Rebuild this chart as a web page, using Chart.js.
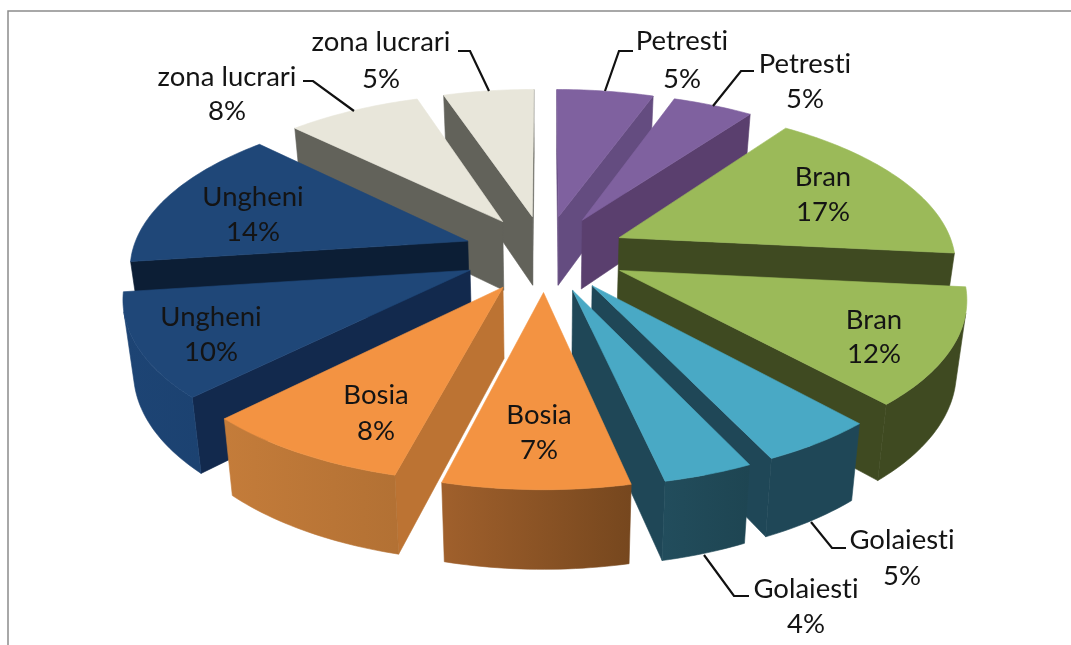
<!DOCTYPE html>
<html>
<head>
<meta charset="utf-8">
<script src="https://cdn.jsdelivr.net/npm/chart.js@4"></script>
<style>
  html, body { margin: 0; padding: 0; background: #fff; overflow: hidden; }
  #wrap { width: 1071px; height: 645px; }
</style>
</head>
<body>
<div id="wrap"><canvas id="chart" width="1071" height="645"></canvas></div>
<script>
// valores, sentido horario a partir do topo
const categories = ['Petresti', 'Petresti', 'Bran', 'Bran', 'Golaiesti', 'Golaiesti',
  'Bosia', 'Bosia', 'Ungheni', 'Ungheni', 'zona lucrari', 'zona lucrari'];
const values = [5.45, 4.55, 16.6, 11.7, 4.65, 3.6, 7.45, 8.45, 10.45, 14.45, 7.55, 5.1];

// cores
const topColors = ['#7F619F', '#7F619F', '#9BBA59', '#9BBA59', '#49A9C5', '#49A9C5',
  '#F39342', '#F39342', '#1F4778', '#1F4778', '#E8E6DA', '#E8E6DA'];
const cutColors = ['#644C80', '#5A3F6E', '#3F4A21', '#3F4A21', '#1F4757', '#1F4757',
  '#BC7333', '#BC7333', '#12294D', '#0C1E35', '#62625A', '#62625A'];
const rimLeft = ['#644C80', '#5A3F6E', '#3F4A21', '#3F4A21', '#1F4757', '#265567',
  '#A0602C', '#C47C3A', '#1D4474', '#1D4474', '#62625A', '#62625A'];
const rimRight = ['#644C80', '#5A3F6E', '#3F4A21', '#3F4A21', '#1F4757', '#1E4552',
  '#76471E', '#A86A30', '#173B66', '#173B66', '#62625A', '#62625A'];

// posicao dos rotulos (centro x, linha 1, linha 2)
const labelSpots = [[682, 41, 79], [805, 64, 99], [823, 177, 212], [874, 320, 354],
  [902, 540, 576], [806, 589, 624], [539, 415, 450], [376, 395, 431],
  [211, 317, 352], [253, 197, 232], [227, 77, 111], [381, 42, 79]];

// linhas de chamada
const leaders = [
  [[633, 51], [619, 51], [605, 91]],
  [[754, 71], [741, 71], [713, 106]],
  [[846, 548], [832, 548], [811, 522]],
  [[749, 596], [734, 596], [704, 555]],
  [[303, 81], [313, 81], [354, 111]],
  [[458, 51], [470, 51], [489, 91]]
];

const EXPLODE = 0.245;  // afastamento das fatias
const SQUASH = 0.463;   // achatamento vertical
const PERSP = 0.146;    // perspectiva
const SINK = 0.975;     // base um pouco menor que o topo
const DROP = 70;        // altura da fatia

function project(arc, c, s, low) {
  const den = 1 - PERSP * s;
  const k = low ? SINK : 1;
  const R = arc.outerRadius;
  return [
    arc.x + R * c * k / den,
    arc.y + (R * SQUASH * s * k + (low ? DROP : 0)) / den
  ];
}

function fillPoly(ctx, pts, color) {
  ctx.beginPath();
  pts.forEach((p, i) => i ? ctx.lineTo(p[0], p[1]) : ctx.moveTo(p[0], p[1]));
  ctx.closePath();
  ctx.fillStyle = color;
  ctx.strokeStyle = color;
  ctx.lineWidth = 0.6;
  ctx.fill();
  ctx.stroke();
}

function facesViewer(quad) {
  let area = 0;
  quad.forEach((p, q) => {
    const o = quad[(q + 1) % 4];
    area += p[0] * o[1] - o[0] * p[1];
  });
  return area < 0;
}

function drawSlice(ctx, arc, i) {
  const mid = (arc.startAngle + arc.endAngle) / 2;
  const ex = EXPLODE * Math.cos(mid);
  const ey = EXPLODE * Math.sin(mid);

  // pontos no plano da pizza: vertice + arco
  const unit = [[ex, ey]];
  const n = Math.ceil((arc.endAngle - arc.startAngle) / 0.02);
  for (let j = 0; j <= n; j++) {
    const a = arc.startAngle + (arc.endAngle - arc.startAngle) * j / n;
    unit.push([ex + Math.cos(a), ey + Math.sin(a)]);
  }
  const top = unit.map(p => project(arc, p[0], p[1], false));
  const low = unit.map(p => project(arc, p[0], p[1], true));

  const xs = top.map(p => p[0]);
  const rim = ctx.createLinearGradient(Math.min(...xs), 0, Math.max(...xs), 0);
  rim.addColorStop(0, rimLeft[i]);
  rim.addColorStop(1, rimRight[i]);

  // paredes cortadas
  const last = top.length - 1;
  [[0, 1], [last, 0]].forEach(e => {
    const quad = [top[e[0]], top[e[1]], low[e[1]], low[e[0]]];
    if (facesViewer(quad)) fillPoly(ctx, quad, cutColors[i]);
  });

  // parede externa: um poligono so com o trecho visivel
  const upper = [];
  const lower = [];
  for (let j = 1; j < last; j++) {
    if (facesViewer([top[j], top[j + 1], low[j + 1], low[j]])) {
      if (!upper.length) { upper.push(top[j]); lower.push(low[j]); }
      upper.push(top[j + 1]);
      lower.push(low[j + 1]);
    }
  }
  if (upper.length) fillPoly(ctx, upper.concat(lower.reverse()), rim);

  fillPoly(ctx, top, arc.options.backgroundColor);
}

const pie3d = {
  id: 'pie3d',
  beforeDraw(chart) {
    const ctx = chart.ctx;
    ctx.save();
    ctx.fillStyle = '#fff';
    ctx.fillRect(0, 0, 1071, 645);
    ctx.strokeStyle = '#8c8c8c';
    ctx.lineWidth = 1.5;
    ctx.beginPath();
    ctx.moveTo(8, 660);
    ctx.lineTo(8, 11);
    ctx.lineTo(1075, 11);
    ctx.stroke();
    ctx.restore();
  },
  beforeDatasetDraw() {
    return false; // a pizza plana nao e desenhada
  },
  afterDatasetsDraw(chart) {
    const ctx = chart.ctx;
    const arcs = chart.getDatasetMeta(0).data;
    const order = arcs.map((a, i) => i).sort((p, q) => {
      const mp = (arcs[p].startAngle + arcs[p].endAngle) / 2;
      const mq = (arcs[q].startAngle + arcs[q].endAngle) / 2;
      return Math.sin(mp) - Math.sin(mq);
    });
    ctx.save();
    order.forEach(i => drawSlice(ctx, arcs[i], i));

    ctx.strokeStyle = '#111';
    ctx.lineWidth = 2.2;
    leaders.forEach(line => {
      ctx.beginPath();
      line.forEach((p, i) => i ? ctx.lineTo(p[0], p[1]) : ctx.moveTo(p[0], p[1]));
      ctx.stroke();
    });

    const total = values.reduce((s, v) => s + v, 0);
    ctx.font = '27.5px Lato';
    ctx.textRendering = 'optimizeSpeed'; // sem ligadura no "ti"
    ctx.fillStyle = '#141414';
    ctx.textAlign = 'center';
    ctx.textBaseline = 'middle';
    categories.forEach((name, i) => {
      const spot = labelSpots[i];
      ctx.fillText(name, spot[0], spot[1]);
      ctx.fillText(Math.round(values[i] / total * 100) + '%', spot[0], spot[2]);
    });
    ctx.restore();
  }
};

new Chart(document.getElementById('chart'), {
  type: 'pie',
  data: {
    labels: categories,
    datasets: [{ data: values, backgroundColor: topColors, borderWidth: 0 }]
  },
  options: {
    responsive: false,
    animation: false,
    events: [],
    radius: 336,
    layout: { padding: { left: 19, bottom: 139 } },
    plugins: { legend: { display: false }, tooltip: { enabled: false } }
  },
  plugins: [pie3d]
});
</script>
</body>
</html>
